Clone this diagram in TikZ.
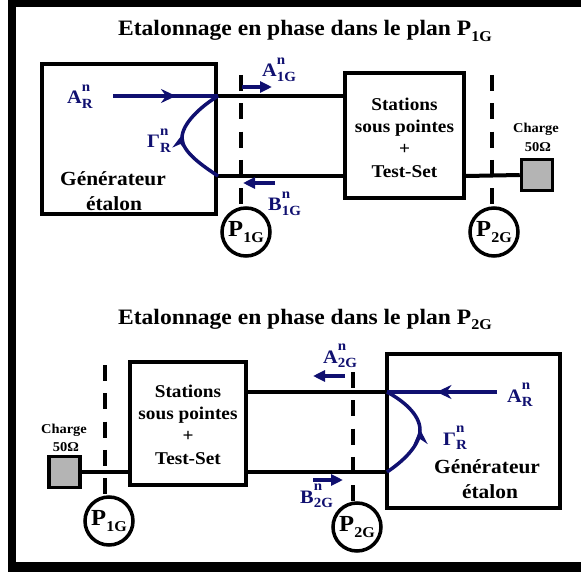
\documentclass[tikz,border=0pt]{standalone}
\usepackage{fontspec}
\setmainfont{Liberation Serif}[FakeStretch=1.07]
\usetikzlibrary{arrows.meta,decorations.markings}
\definecolor{lblue}{RGB}{16,16,112}
\definecolor{loadgray}{RGB}{180,180,180}
\newcommand{\sxl}[3]{#1\rlap{\raisebox{0.66em}{\fontsize{14}{14}\selectfont #2}}\raisebox{-0.25em}{\fontsize{14}{14}\selectfont #3}}
\newcommand{\psub}[2]{#1\raisebox{-0.26em}{\fontsize{15}{15}\selectfont #2}}
\begin{document}
\begin{tikzpicture}[x=1pt,y=-1pt,
  box/.style={draw,line width=4pt,inner sep=0pt},
  loadbox/.style={draw,line width=3.5pt,fill=loadgray,inner sep=0pt,minimum size=31pt},
  pcirc/.style={draw,circle,line width=3.5pt,inner sep=0pt,minimum size=48pt,font=\bfseries\fontsize{23}{23}\selectfont},
  wire/.style={line width=4pt},
  plane/.style={line width=4.5pt,dash pattern=on 16pt off 12.3pt},
  bluew/.style={lblue,line width=3.5pt},
  midarrow/.style={postaction={decorate},decoration={markings,mark=at position #1 with {\arrow{Stealth[length=15pt,width=14pt,inset=5pt]}}}},
  smallarrow/.style={lblue,line width=3.5pt,-{Triangle[length=12pt,width=11pt]}},
  lab/.style={text=lblue,font=\bfseries\fontsize{19}{19}\selectfont,inner sep=0pt,anchor=base west},
  ttl/.style={font=\bfseries\fontsize{22}{22}\selectfont,inner sep=0pt,anchor=base},
  gtxt/.style={font=\bfseries\fontsize{20}{20}\selectfont,inner sep=0pt,anchor=base},
  stxt/.style={font=\bfseries\fontsize{18}{22.3}\selectfont,inner sep=0pt,align=center},
  ctxt/.style={font=\bfseries\fontsize{13.5}{13.5}\selectfont,inner sep=0pt,anchor=base}]
\useasboundingbox (0,0) rectangle (581,572);
% frame
\fill (8,0) rectangle (581,7);
\fill (8,0) rectangle (16,572);
\fill (8,562) rectangle (581,572);

% ---------------- top ----------------
\node[ttl] (t1) at (305,36) {Etalonnage en phase dans le plan \psub{P}{1G}};
\node[box,minimum width=174pt,minimum height=150pt] (gen1) at (129,139) {};
\node[box,minimum width=119pt,minimum height=125pt] (sta1) at (404.5,135.5) {};
\node[loadbox] (load1) at (537,175) {};
\node[stxt] (sta1t) at (404.5,137.5) {Stations\\sous pointes\\+\\Test-Set};
\node[gtxt] (gen1a) at (113,186) {Générateur};
\node[gtxt] (gen1b) at (114,211) {étalon};
\node[ctxt] (ch1a) at (536,133) {Charge};
\node[ctxt] (ch1b) at (538,152) {50Ω};
\coordinate (u1) at (0,96);
\coordinate (l1) at (0,176);
\draw[wire] (gen1.east |- u1) -- (sta1.west |- u1);
\draw[wire] (gen1.east |- l1) -- (sta1.west |- l1);
\draw[wire] (sta1.east |- l1) -- (load1.west);
% planes
\node[pcirc] (p1a) at (246,232) {\psub{P}{1G}};
\node[pcirc] (p2a) at (494,232) {\psub{P}{2G}};
\coordinate (d1a) at (241,75);
\coordinate (d1b) at (241,205);
\coordinate (d2a) at (492,75);
\coordinate (d2b) at (492,205);
\draw[plane] (d1a) -- (d1b);
\draw[plane] (d2a) -- (d2b);
% blue
\coordinate (ar1) at (113,96);
\coordinate (gu1) at (218,96);
\coordinate (gl1) at (218,176);
\draw[bluew,midarrow=0.6] (ar1) -- (gu1);
\draw[bluew,midarrow=0.52] (gl1) .. controls (203,166) and (182,152) .. (182,138) .. controls (182,124) and (200,107) .. (gu1);
\coordinate (a1s) at (242,87);
\coordinate (a1e) at (272,87);
\coordinate (b1s) at (275,183);
\coordinate (b1e) at (243,183);
\draw[smallarrow] (a1s) -- (a1e);
\draw[smallarrow] (b1s) -- (b1e);
\node[lab] (lar1) at (67,104) {\sxl{A}{n}{R}};
\node[lab] (lgr1) at (147,148) {\sxl{Γ}{n}{R}};
\node[lab] (la1) at (262,77) {\sxl{A}{n}{1G}};
\node[lab] (lb1) at (268,211) {\sxl{B}{n}{1G}};

% ---------------- bottom ----------------
\node[ttl] (t2) at (305,324) {Etalonnage en phase dans le plan \psub{P}{2G}};
\node[box,minimum width=116pt,minimum height=123pt] (sta2) at (188,423.5) {};
\node[box,minimum width=173pt,minimum height=154pt] (gen2) at (473.5,431) {};
\node[loadbox] (load2) at (64.5,472) {};
\node[stxt] (sta2t) at (188,424.5) {Stations\\sous pointes\\+\\Test-Set};
\node[gtxt] (gen2a) at (487,473) {Générateur};
\node[gtxt] (gen2b) at (490,498) {étalon};
\node[ctxt] (ch2a) at (64,433) {Charge};
\node[ctxt] (ch2b) at (66,451) {50Ω};
\coordinate (u2) at (0,392);
\coordinate (l2) at (0,472);
\draw[wire] (load2.east) -- (sta2.west |- l2);
\draw[wire] (sta2.east |- u2) -- (gen2.west |- u2);
\draw[wire] (sta2.east |- l2) -- (gen2.west |- l2);
\node[pcirc] (p1b) at (109,521) {\psub{P}{1G}};
\node[pcirc] (p2b) at (357,527) {\psub{P}{2G}};
\coordinate (d3a) at (105,365);
\coordinate (d3b) at (105,494);
\coordinate (d4a) at (353,372);
\coordinate (d4b) at (353,501);
\draw[plane] (d3a) -- (d3b);
\draw[plane] (d4a) -- (d4b);
\coordinate (ar2) at (497,392);
\coordinate (gu2) at (387,392);
\coordinate (gl2) at (387,472);
\draw[bluew,midarrow=0.55] (ar2) -- (gu2);
\draw[bluew,midarrow=0.52] (gl2) .. controls (402,462) and (420,446) .. (420,430) .. controls (420,414) and (402,400) .. (gu2);
\coordinate (a2s) at (345,376);
\coordinate (a2e) at (313,376);
\coordinate (b2s) at (313,480);
\coordinate (b2e) at (343,480);
\draw[smallarrow] (a2s) -- (a2e);
\draw[smallarrow] (b2s) -- (b2e);
\node[lab] (lar2) at (507,402) {\sxl{A}{n}{R}};
\node[lab] (lgr2) at (443,445) {\sxl{Γ}{n}{R}};
\node[lab] (la2) at (323,363) {\sxl{A}{n}{2G}};
\node[lab] (lb2) at (300,503) {\sxl{B}{n}{2G}};
\end{tikzpicture}
\end{document}
